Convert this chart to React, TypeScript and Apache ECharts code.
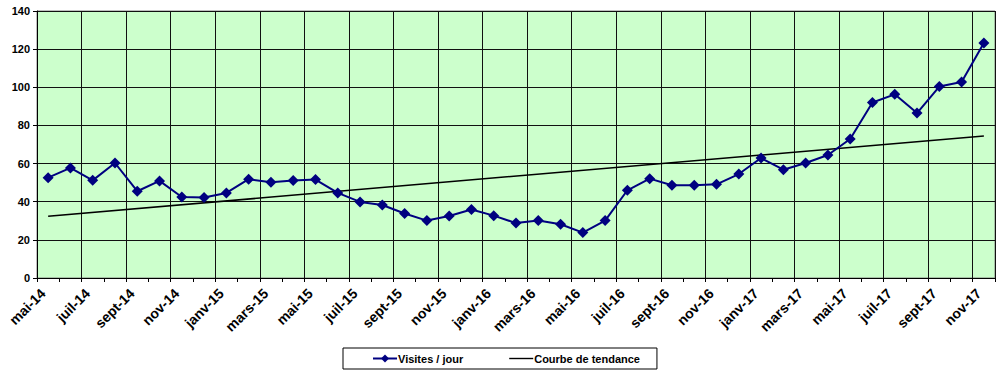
import { useEffect, useRef } from 'react';
import * as echarts from 'echarts';

const months = ['mai-14','juin-14','juil-14','août-14','sept-14','oct-14','nov-14','déc-14',
  'janv-15','févr-15','mars-15','avr-15','mai-15','juin-15','juil-15','août-15','sept-15','oct-15','nov-15','déc-15',
  'janv-16','févr-16','mars-16','avr-16','mai-16','juin-16','juil-16','août-16','sept-16','oct-16','nov-16','déc-16',
  'janv-17','févr-17','mars-17','avr-17','mai-17','juin-17','juil-17','août-17','sept-17','oct-17','nov-17'];

const tickLabels = ['mai-14','juil-14','sept-14','nov-14','janv-15','mars-15','mai-15','juil-15','sept-15','nov-15',
  'janv-16','mars-16','mai-16','juil-16','sept-16','nov-16','janv-17','mars-17','mai-17','juil-17','sept-17','nov-17'];

const visits = [52.6, 57.7, 51.2, 60.3, 45.5, 50.9, 42.5, 42.2, 44.6, 51.8,
  50.2, 51.1, 51.6, 44.6, 39.9, 38.3, 33.8, 30.1, 32.5, 35.9,
  32.7, 28.8, 30.1, 28.2, 23.8, 30.1, 46.0, 52.1, 48.6, 48.6,
  49.1, 54.5, 62.9, 56.8, 60.3, 64.5, 72.9, 92.0, 96.3, 86.5,
  100.4, 102.8, 123.2];

const trendEnds = [32.4, 74.5];

const yTicks = { min: 0, max: 140, interval: 20 };

const FONT = 'Arial, "Liberation Sans", sans-serif';

export default function App() {
  const ref = useRef<HTMLDivElement>(null);
  useEffect(() => {
    if (!ref.current) return;
    const chart = echarts.init(ref.current, null, { renderer: 'svg' });
    const visitData = visits.map((v, i) => [i + 0.5, v]);
    const trendData = [[0.5, trendEnds[0]], [months.length - 0.5, trendEnds[1]]];
    chart.setOption({
      animation: false,
      grid: {
        left: 37, top: 11, right: 5, bottom: 101,
        show: true, backgroundColor: '#CCFFCC', borderColor: '#808080', borderWidth: 1,
      },
      xAxis: {
        type: 'value', min: 0, max: months.length, interval: 2,
        axisLine: { show: true, onZero: false, lineStyle: { color: '#000', width: 1 } },
        axisTick: { show: true, length: 4, lineStyle: { color: '#000' } },
        minorTick: { show: true, splitNumber: 2, length: 4, lineStyle: { color: '#000' } },
        splitLine: { show: true, lineStyle: { color: '#111', width: 1 } },
        axisLabel: { show: false },
      },
      yAxis: {
        type: 'value', min: yTicks.min, max: yTicks.max, interval: yTicks.interval,
        axisLine: { show: true, lineStyle: { color: '#000', width: 1 } },
        axisTick: { show: true, length: 4, lineStyle: { color: '#000' } },
        splitLine: { show: true, lineStyle: { color: '#111', width: 1 } },
        axisLabel: { margin: 7, fontFamily: FONT, fontWeight: 'bold', fontSize: 11, color: '#000' },
      },
      legend: {
        left: 343, top: 348,
        padding: [5, 17, 5, 29], itemGap: 46,
        itemWidth: 24, itemHeight: 10,
        borderColor: '#000', borderWidth: 1, backgroundColor: '#fff',
        textStyle: { fontFamily: FONT, fontWeight: 'bold', fontSize: 11, color: '#000', padding: [0, 0, 0, -4] },
        data: [
          'Visites / jour',
          { name: 'Courbe de tendance', icon: 'path://M0,0 L24,0 L24,1.4 L0,1.4 Z' },
        ],
      },
      series: [
        {
          name: 'Visites / jour', type: 'line', data: visitData,
          symbol: 'diamond', symbolSize: 11,
          lineStyle: { color: '#000080', width: 2 },
          itemStyle: { color: '#000080' },
          z: 3,
        },
        {
          name: 'Courbe de tendance', type: 'line', data: trendData,
          symbol: 'none', showSymbol: false,
          lineStyle: { color: '#000', width: 1.5 },
          itemStyle: { color: '#000' },
          z: 2,
        },
      ],
    });
    // x tick labels, positioned through the axis scale
    const y0 = chart.convertToPixel({ gridIndex: 0 }, [0, 0])[1];
    const labels = tickLabels.map((t, k) => {
      const x = chart.convertToPixel({ gridIndex: 0 }, [k * 2, 0])[0];
      return {
        type: 'text', x: x + 1, y: y0 + 8, rotation: Math.PI / 4,
        style: {
          text: t, fontFamily: FONT, fontWeight: 'bold', fontSize: 14, fill: '#000',
          align: 'right', verticalAlign: 'top',
        },
      };
    });
    chart.setOption({ graphic: labels });
    return () => chart.dispose();
  }, []);
  return <div ref={ref} style={{ position: 'absolute', left: 0, top: 0, width: 1000, height: 379 }} />;
}
